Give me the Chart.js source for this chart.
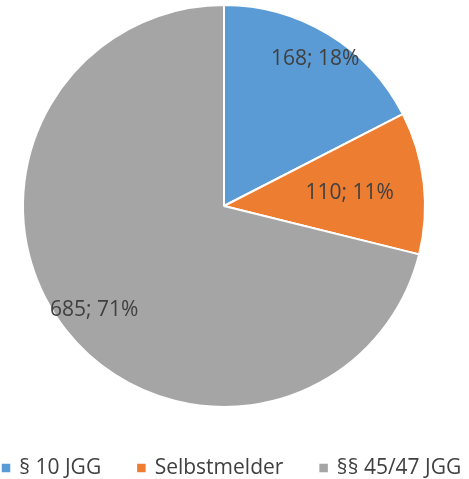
<!DOCTYPE html>
<html>
<head>
<meta charset="utf-8">
<script src="https://cdn.jsdelivr.net/npm/chart.js@4"></script>
<style>
html,body{margin:0;padding:0;background:#fff;}
#wrap{width:469px;height:479px;}
</style>
</head>
<body>
<div id="wrap"><canvas id="c" width="469" height="479"></canvas></div>
<script>
const categories = ["§ 10 JGG", "Selbstmelder", "§§ 45/47 JGG"];
const values = [168, 110, 685];
const percentLabels = ["18%", "11%", "71%"];
const colors = ["#5B9BD5", "#ED7D31", "#A5A5A5"];
const labelRadius = [0.87, 0.63, 0.82];

const FONT = "'Open Sans', 'Liberation Sans', sans-serif";
const TEXT_COLOR = "#404040";

const labelPlugin = {
  id: 'sliceLabels',
  afterDatasetsDraw(chart) {
    const ctx = chart.ctx;
    const meta = chart.getDatasetMeta(0);
    ctx.save();
    ctx.font = "21px " + FONT;
    ctx.fillStyle = TEXT_COLOR;
    ctx.textAlign = "center";
    ctx.textBaseline = "middle";
    meta.data.forEach((arc, i) => {
      const p = arc.getProps(['x','y','startAngle','endAngle','outerRadius'], true);
      const a = (p.startAngle + p.endAngle) / 2;
      const r = p.outerRadius * labelRadius[i];
      ctx.fillText(values[i] + "; " + percentLabels[i], p.x + Math.cos(a) * r, p.y + Math.sin(a) * r + 2);
    });
    ctx.restore();
  }
};

const legendPlugin = {
  id: 'bottomLegend',
  afterDraw(chart) {
    const ctx = chart.ctx;
    ctx.save();
    ctx.font = "21px " + FONT;
    ctx.textBaseline = "middle";
    ctx.textAlign = "left";
    const box = 8.5, boxGap = 9, itemGap = 36;
    const widths = categories.map(c => ctx.measureText(c).width);
    let total = 0;
    widths.forEach((w, i) => { total += box + boxGap + w + (i < widths.length - 1 ? itemGap : 0); });
    let x = 231.5 - total / 2;
    const y = 468;
    categories.forEach((c, i) => {
      ctx.fillStyle = colors[i];
      ctx.fillRect(x, y - box / 2, box, box);
      x += box + boxGap;
      ctx.fillStyle = TEXT_COLOR;
      ctx.fillText(c, x, y);
      x += widths[i] + itemGap;
    });
    ctx.restore();
  }
};

new Chart(document.getElementById('c'), {
  type: 'pie',
  data: {
    labels: categories,
    datasets: [{
      data: values,
      backgroundColor: colors,
      borderColor: "#ffffff",
      borderWidth: 2,
      hoverOffset: 0
    }]
  },
  options: {
    responsive: false,
    animation: false,
    events: [],
    layout: { padding: { top: 4, left: 22, right: 43, bottom: 71 } },
    plugins: {
      tooltip: { enabled: false },
      legend: { display: false }
    }
  },
  plugins: [labelPlugin, legendPlugin]
});
</script>
</body>
</html>
